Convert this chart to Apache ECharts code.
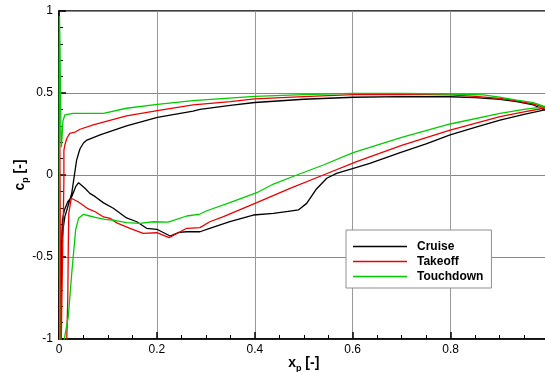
<!DOCTYPE html>
<html>
<head>
<meta charset="utf-8">
<script src="https://cdn.jsdelivr.net/npm/echarts@6/dist/echarts.min.js"></script>
<style>
html,body{margin:0;padding:0;background:#fff;}
#c{width:545px;height:372px;}
</style>
</head>
<body>
<div id="c"></div>
<script>
const seriesNames = ['Cruise', 'Takeoff', 'Touchdown'];
const seriesColors = ['#000000', '#ee0000', '#00cc00'];
const xTickValues = [0, 0.2, 0.4, 0.6, 0.8, 1];
const yTickValues = [-1, -0.5, 0, 0.5, 1];

// [x_p, c_p] : trailing edge -> upper branch -> leading edge -> lower branch -> trailing edge
const cruise = [
  [0.999,0.395],[0.99,0.400],[0.969,0.427],[0.935,0.448],[0.901,0.461],[0.85,0.472],[0.8,0.477],
  [0.7,0.478],[0.601,0.474],[0.5,0.462],[0.40,0.442],[0.35,0.425],[0.288,0.400],[0.274,0.390],
  [0.201,0.352],[0.138,0.300],[0.084,0.245],[0.057,0.213],[0.05,0.195],[0.043,0.160],[0.041,0.142],
  [0.036,0.091],[0.031,-0.01],[0.026,-0.112],[0.019,-0.183],[0.012,-0.254],[0.009,-0.315],
  [0.005,-0.417],[0.005,-0.52],[0.003,-0.8],[0.002,-1.15],
  [0.004,-1.15],[0.005,-0.6],[0.006,-0.35],[0.007,-0.274],[0.011,-0.213],[0.018,-0.163],
  [0.026,-0.132],[0.034,-0.071],[0.040,-0.047],[0.053,-0.081],[0.063,-0.112],[0.074,-0.132],
  [0.091,-0.170],[0.111,-0.203],[0.138,-0.262],[0.159,-0.285],[0.179,-0.325],[0.20,-0.331],
  [0.227,-0.372],[0.245,-0.350],[0.261,-0.346],[0.288,-0.346],[0.308,-0.325],[0.349,-0.285],
  [0.397,-0.244],[0.438,-0.234],[0.472,-0.220],[0.489,-0.213],[0.506,-0.173],[0.526,-0.085],
  [0.547,-0.020],[0.567,0.010],[0.608,0.047],[0.635,0.071],[0.697,0.137],[0.75,0.190],
  [0.799,0.244],[0.85,0.290],[0.901,0.335],[0.95,0.370],[0.99,0.396],[0.999,0.395]
];
const takeoff = [
  [0.999,0.410],[0.99,0.413],[0.969,0.433],[0.935,0.452],[0.901,0.467],[0.85,0.480],[0.8,0.488],
  [0.7,0.492],[0.601,0.490],[0.5,0.478],[0.40,0.464],[0.35,0.448],[0.274,0.427],[0.201,0.392],
  [0.138,0.360],[0.07,0.305],[0.043,0.279],[0.033,0.262],[0.022,0.254],[0.016,0.224],[0.012,0.183],
  [0.010,0.150],[0.010,-0.03],[0.009,-0.23],[0.007,-0.54],[0.005,-0.945],[0.004,-1.15],
  [0.002,-1.15],[0.0015,0.30],[0.001,-1.15],[0.015,-1.15],
  [0.016,-0.986],[0.018,-0.74],[0.019,-0.437],[0.020,-0.234],[0.025,-0.142],[0.029,-0.148],
  [0.039,-0.163],[0.06,-0.207],[0.074,-0.224],[0.091,-0.256],[0.105,-0.265],[0.118,-0.292],
  [0.145,-0.325],[0.172,-0.356],[0.20,-0.352],[0.225,-0.382],[0.244,-0.352],[0.261,-0.325],
  [0.288,-0.321],[0.308,-0.285],[0.336,-0.254],[0.404,-0.169],[0.472,-0.081],[0.54,0.0],
  [0.608,0.081],[0.7,0.180],[0.799,0.274],[0.901,0.356],[0.95,0.385],[0.99,0.407],[0.999,0.410]
];
const touchdown = [
  [0.999,0.415],[0.99,0.420],[0.969,0.441],[0.935,0.457],[0.9,0.475],[0.867,0.488],[0.8,0.494],
  [0.7,0.498],[0.6,0.498],[0.5,0.490],[0.4,0.480],[0.288,0.457],[0.274,0.453],[0.201,0.431],
  [0.138,0.407],[0.091,0.376],[0.029,0.376],[0.012,0.366],[0.008,0.33],[0.006,0.22],[0.005,0.17],
  [0.004,0.25],[0.003,0.5],[0.002,0.8],[0.001,0.97],[0.0005,0.6],[0.0008,0.0],[0.001,-0.6],
  [0.002,-1.15],[0.008,-1.15],
  [0.009,-1.03],[0.019,-0.864],[0.026,-0.60],[0.029,-0.50],[0.034,-0.335],[0.040,-0.264],
  [0.050,-0.240],[0.063,-0.250],[0.074,-0.258],[0.094,-0.270],[0.113,-0.276],[0.138,-0.290],
  [0.165,-0.295],[0.193,-0.285],[0.223,-0.287],[0.261,-0.250],[0.288,-0.238],[0.302,-0.218],
  [0.349,-0.169],[0.404,-0.108],[0.438,-0.055],[0.486,0.0],[0.54,0.061],[0.601,0.136],
  [0.7,0.230],[0.799,0.311],[0.901,0.376],[0.95,0.400],[0.99,0.416],[0.999,0.415]
];
const allData = [cruise, takeoff, touchdown];

const font = '"Liberation Sans", Arial, Helvetica, sans-serif';
const chart = echarts.init(document.getElementById('c'), null, {renderer: 'canvas'});

const nameRich = {
  a: {fontFamily: font, fontWeight: 'bold', fontSize: 14, lineHeight: 16, verticalAlign: 'top', color: '#000'},
  b: {fontFamily: font, fontWeight: 'bold', fontSize: 9, lineHeight: 10, verticalAlign: 'top', padding: [8, 0, 0, 0], color: '#000'}
};

chart.setOption({
  animation: false,
  backgroundColor: '#fff',
  grid: {left: 59, top: 11, width: 489.5, height: 328, containLabel: false, outerBoundsMode: 'none',
    show: true, borderColor: '#000', borderWidth: 1.5, backgroundColor: 'transparent'},
  legend: {
    data: seriesNames,
    orient: 'vertical',
    left: 346, top: 230,
    padding: [9, 8, 4, 7],
    itemWidth: 54, itemHeight: 1.5, itemGap: 0,
    icon: 'rect',
    backgroundColor: '#fff',
    borderColor: '#909090', borderWidth: 1, borderRadius: 0,
    textStyle: {fontFamily: font, fontWeight: 'bold', fontSize: 12, color: '#000', lineHeight: 15, padding: [0, 0, 0, 5]}
  },
  xAxis: {
    type: 'value', min: xTickValues[0], max: xTickValues[xTickValues.length - 1], interval: 0.2,
    name: '{a|x}{b|p}{a| [-]}', nameLocation: 'middle', nameGap: 17, nameMoveOverlap: false,
    nameTextStyle: {rich: nameRich},
    axisLine: {show: true, onZero: false, lineStyle: {color: '#000', width: 1.5}},
    axisTick: {show: true, inside: true, length: 7, lineStyle: {color: '#000', width: 1.5}},
    minorTick: {show: true, splitNumber: 4, length: 4, lineStyle: {color: '#000', width: 1}},
    axisLabel: {fontFamily: font, fontSize: 12, color: '#000', margin: 5,
      formatter: v => (v >= 1 ? '' : String(+v.toFixed(1)))},
    splitLine: {show: true, lineStyle: {color: '#999', width: 1}}
  },
  yAxis: {
    type: 'value', min: yTickValues[0], max: yTickValues[yTickValues.length - 1], interval: 0.5,
    name: '{a|c}{b|p}{a| [-]}', nameLocation: 'middle', nameGap: 30, nameRotate: 90, nameMoveOverlap: false,
    nameTextStyle: {rich: nameRich},
    axisLine: {show: true, onZero: false, lineStyle: {color: '#000', width: 1.5}},
    axisTick: {show: true, inside: true, length: 7, lineStyle: {color: '#000', width: 1.5}},
    minorTick: {show: true, splitNumber: 5, length: 4, lineStyle: {color: '#000', width: 1}},
    axisLabel: {fontFamily: font, fontSize: 12, color: '#000', margin: 6,
      formatter: v => String(+v.toFixed(1))},
    splitLine: {show: true, lineStyle: {color: '#888', width: 1}}
  },
  series: allData.map((d, i) => ({
    name: seriesNames[i],
    type: 'line',
    data: d,
    symbol: 'none',
    showSymbol: false,
    clip: true,
    color: seriesColors[i],
    lineStyle: {color: seriesColors[i], width: 1.3},
    emphasis: {disabled: true}
  }))
});
</script>
</body>
</html>
